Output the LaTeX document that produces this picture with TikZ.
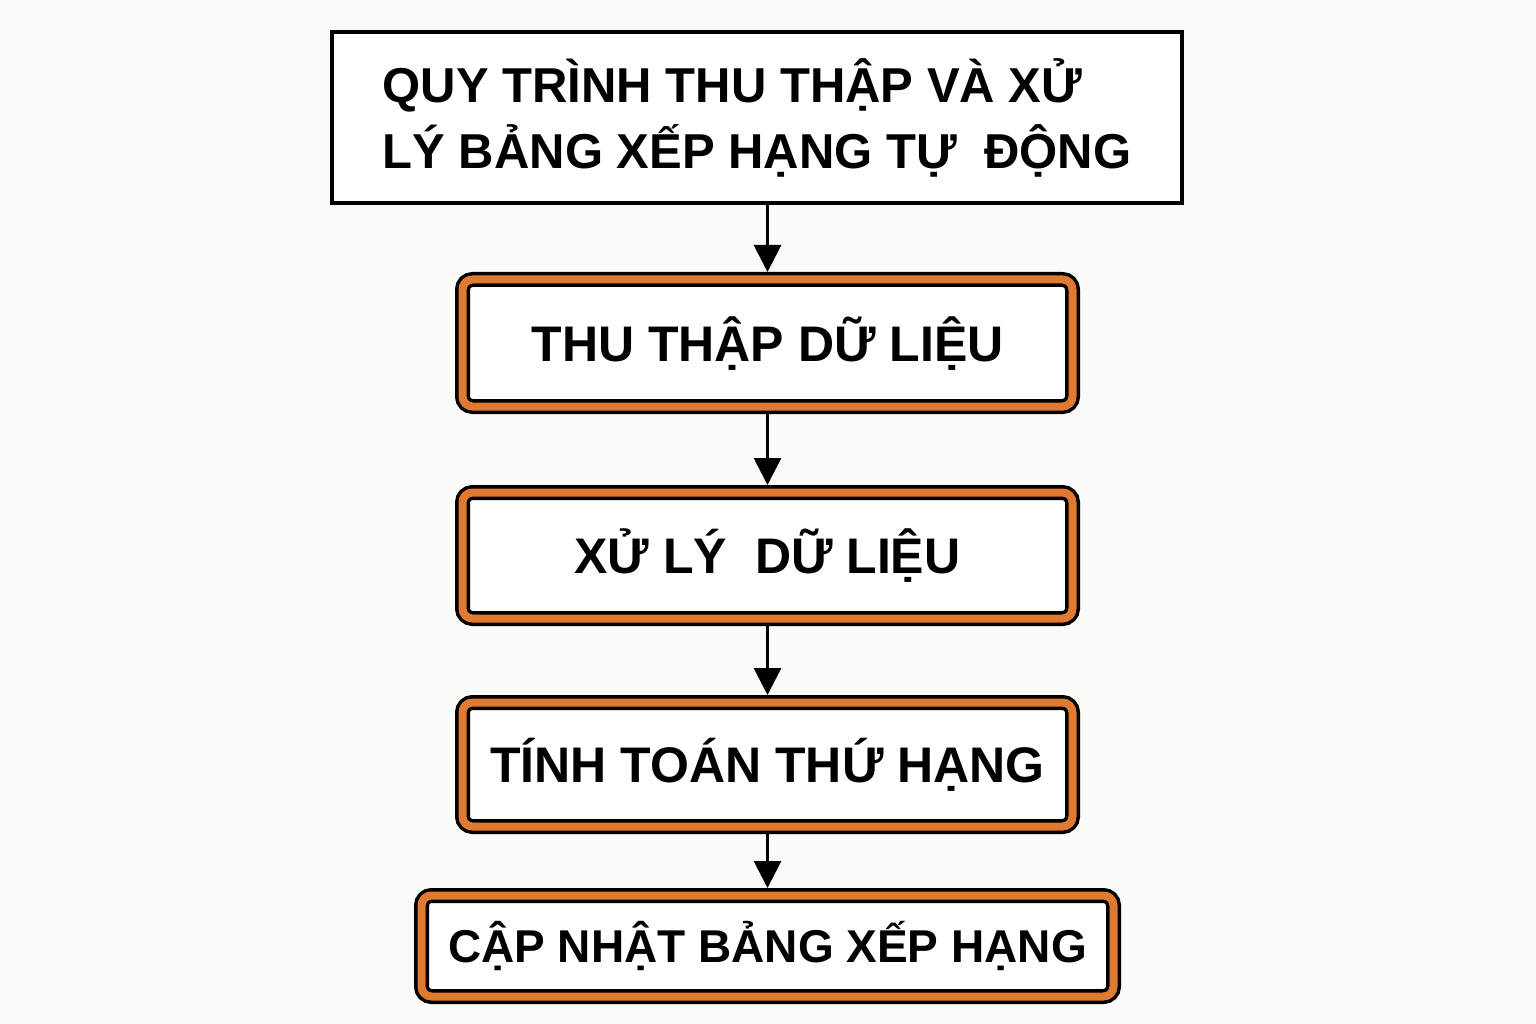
\documentclass[tikz,border=0pt]{standalone}
\usepackage{fontspec}
\setmainfont{Liberation Sans}
\usetikzlibrary{arrows.meta}
\definecolor{bg}{RGB}{250,250,246}
\definecolor{frameorange}{RGB}{224,122,48}
\begin{document}
\begin{tikzpicture}[x=1pt,y=-1pt,
  titlebox/.style={draw=black, line width=4pt, fill=white, minimum width=850pt, minimum height=171pt,
    inner sep=0pt, align=left, font=\bfseries\fontsize{49}{66}\selectfont},
  stepbox/.style={draw=black, line width=3.5pt, double=frameorange, double distance=8pt,
    rounded corners=10pt, fill=white, inner sep=0pt, outer sep=7.5pt,
    font=\bfseries\fontsize{50}{60}\selectfont, text height=36pt, text depth=0pt},
  flowarrow/.style={line width=3pt, -{Triangle[width=27pt,length=27pt]}}
]
\fill[bg] (0,0) rectangle (1536,1024);
\useasboundingbox (0,0) rectangle (1536,1024);

\node[titlebox] (title) at (757,117.5) {QUY TRÌNH THU THẬP VÀ XỬ\\LÝ BẢNG XẾP HẠNG TỰ\ \ ĐỘNG};

\node[stepbox, minimum width=610pt, minimum height=127pt] (s1) at (767.5,343) {THU THẬP DỮ LIỆU};
\node[stepbox, minimum width=610pt, minimum height=126pt] (s2) at (767.5,555.5) {XỬ LÝ\ \ DỮ LIỆU};
\node[stepbox, minimum width=610pt, minimum height=124pt] (s3) at (767.5,764.5) {TÍNH TOÁN THỨ HẠNG};
\node[stepbox, minimum width=692pt, minimum height=101pt, font=\bfseries\fontsize{46}{56}\selectfont, text height=33pt] (s4) at (767.5,946) {CẬP NHẬT BẢNG XẾP HẠNG};

\draw[flowarrow] (title.south -| s1.north) -- (s1.north);
\draw[flowarrow] (s1.south) -- (s2.north);
\draw[flowarrow] (s2.south) -- (s3.north);
\draw[flowarrow] (s3.south) -- (s4.north);
\end{tikzpicture}
\end{document}
